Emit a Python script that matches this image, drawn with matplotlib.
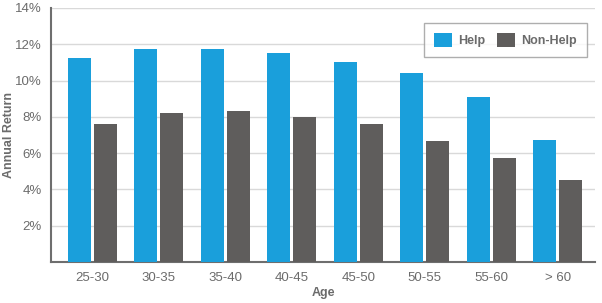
import matplotlib
matplotlib.use("Agg")
import matplotlib.pyplot as plt
import numpy as np

plt.rcParams['font.family'] = ['Liberation Sans', 'DejaVu Sans']

categories = ["25-30", "30-35", "35-40", "40-45", "45-50", "50-55", "55-60", "> 60"]
help_vals = [11.25, 11.75, 11.72, 11.5, 11.02, 10.42, 9.1, 6.72]
nonhelp_vals = [7.62, 8.2, 8.3, 8.0, 7.62, 6.68, 5.73, 4.5]
yticks = [2, 4, 6, 8, 10, 12, 14]

help_color = "#1a9fdb"
non_color = "#5f5d5c"
text_color = "#6b6b6b"

fig = plt.figure(figsize=(6.02, 3.03), dpi=100)
ax = fig.add_axes([51/602, 41/303, 544/602, 254/303])

x = np.arange(len(categories))
w = 0.346
off = 0.195
ax.bar(x - off, help_vals, w, color=help_color, label="Help", zorder=3)
ax.bar(x + off, nonhelp_vals, w, color=non_color, label="Non-Help", zorder=3)

ax.set_xlim(-0.62, 7.56)
ax.set_ylim(0, 14)
ax.set_yticks(yticks)
ax.set_yticklabels([f"{t}%" for t in yticks])
ax.set_xticks(x)
ax.set_xticklabels(categories)
ax.grid(axis='y', color="#d9d9d9", linewidth=1, zorder=0)
ax.tick_params(axis='both', length=0, labelsize=9.5, labelcolor=text_color)
ax.tick_params(axis='x', pad=7)
ax.tick_params(axis='y', pad=6.5)
for s in ['top', 'right']:
    ax.spines[s].set_visible(False)
for s in ['left', 'bottom']:
    ax.spines[s].set_color("#6e6e6e")
    ax.spines[s].set_linewidth(1.5)

ax.set_xlabel("Age", fontsize=9, fontweight='bold', color=text_color)
ax.xaxis.set_label_coords(0.5, -25/254)
ax.set_ylabel("Annual Return", fontsize=9, fontweight='bold', color=text_color)
ax.yaxis.set_label_coords(-36/544, 0.5)

leg = ax.legend(loc='upper right', bbox_to_anchor=(0.985, 0.941), ncol=2, frameon=True,
                fancybox=False, edgecolor="#9a9a9a", fontsize=9, handlelength=1.4,
                handleheight=1.4, columnspacing=1.0, handletextpad=0.5,
                borderpad=0.8, borderaxespad=0)
leg.get_frame().set_linewidth(1)
for t in leg.get_texts():
    t.set_color(text_color)
    t.set_fontweight('bold')

fig.savefig("out.png", dpi=100)
